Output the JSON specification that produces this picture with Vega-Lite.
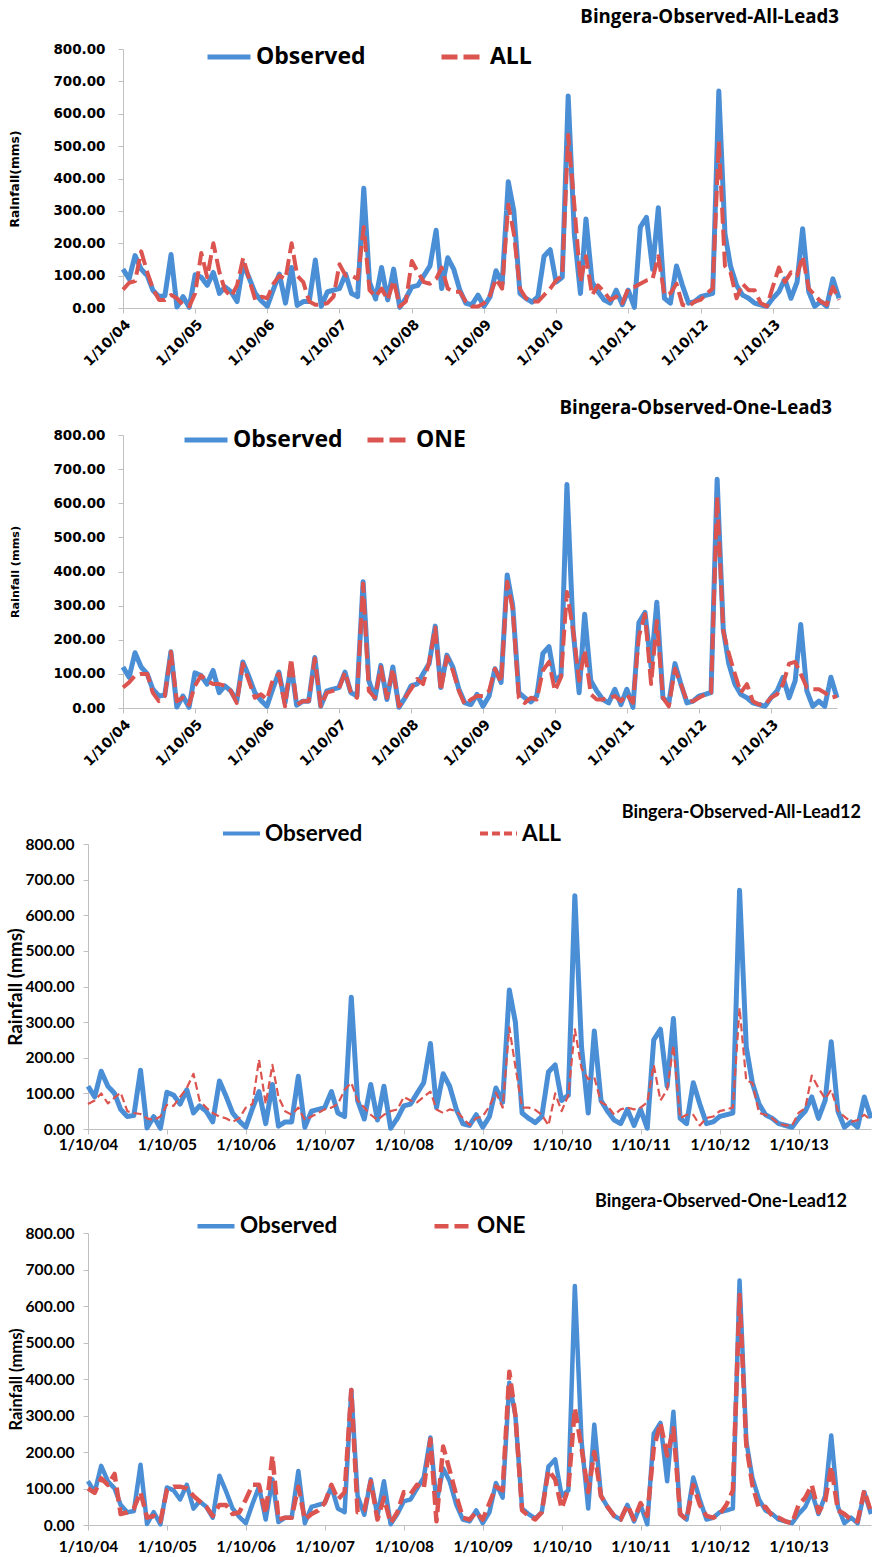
{
"$schema":"https://vega.github.io/schema/vega-lite/v6.json",
"background":"white",
"padding":{"left":6,"top":8,"right":0,"bottom":0},
"spacing":30,
"config":{"view":{"stroke":null}},
"resolve":{"scale":{"x":"independent","y":"independent","color":"independent","strokeDash":"independent"},"legend":{"color":"independent","strokeDash":"independent"}},
"datasets":{"rain":[
{"d":"2004-10-01","obs":120,"all3":57,"one3":60,"all12":70,"one12":100},
{"d":"2004-11-01","obs":90,"all3":78,"one3":75,"all12":80,"one12":88},
{"d":"2004-12-01","obs":162,"all3":83,"one3":95,"all12":100,"one12":128},
{"d":"2005-01-01","obs":120,"all3":175,"one3":100,"all12":72,"one12":110},
{"d":"2005-02-01","obs":100,"all3":110,"one3":100,"all12":88,"one12":140},
{"d":"2005-03-01","obs":55,"all3":60,"one3":45,"all12":102,"one12":30},
{"d":"2005-04-01","obs":35,"all3":25,"one3":20,"all12":50,"one12":35},
{"d":"2005-05-01","obs":38,"all3":25,"one3":35,"all12":45,"one12":45},
{"d":"2005-06-01","obs":165,"all3":40,"one3":165,"all12":42,"one12":90},
{"d":"2005-07-01","obs":3,"all3":30,"one3":20,"all12":30,"one12":20},
{"d":"2005-08-01","obs":35,"all3":10,"one3":30,"all12":25,"one12":25},
{"d":"2005-09-01","obs":2,"all3":5,"one3":10,"all12":35,"one12":10},
{"d":"2005-10-01","obs":103,"all3":45,"one3":65,"all12":68,"one12":95},
{"d":"2005-11-01","obs":95,"all3":170,"one3":95,"all12":65,"one12":105},
{"d":"2005-12-01","obs":70,"all3":95,"one3":80,"all12":90,"one12":105},
{"d":"2006-01-01","obs":110,"all3":200,"one3":70,"all12":115,"one12":100},
{"d":"2006-02-01","obs":45,"all3":110,"one3":70,"all12":155,"one12":80},
{"d":"2006-03-01","obs":65,"all3":55,"one3":65,"all12":80,"one12":65},
{"d":"2006-04-01","obs":50,"all3":35,"one3":50,"all12":60,"one12":50},
{"d":"2006-05-01","obs":20,"all3":70,"one3":15,"all12":45,"one12":25},
{"d":"2006-06-01","obs":135,"all3":155,"one3":130,"all12":35,"one12":55},
{"d":"2006-07-01","obs":93,"all3":90,"one3":80,"all12":30,"one12":55},
{"d":"2006-08-01","obs":45,"all3":25,"one3":30,"all12":20,"one12":30},
{"d":"2006-09-01","obs":22,"all3":35,"one3":40,"all12":30,"one12":35},
{"d":"2006-10-01","obs":5,"all3":30,"one3":25,"all12":60,"one12":70},
{"d":"2006-11-01","obs":58,"all3":75,"one3":85,"all12":70,"one12":110},
{"d":"2006-12-01","obs":105,"all3":100,"one3":100,"all12":195,"one12":110},
{"d":"2007-01-01","obs":15,"all3":90,"one3":5,"all12":70,"one12":30},
{"d":"2007-02-01","obs":125,"all3":200,"one3":145,"all12":180,"one12":190},
{"d":"2007-03-01","obs":8,"all3":100,"one3":10,"all12":90,"one12":15},
{"d":"2007-04-01","obs":20,"all3":80,"one3":20,"all12":50,"one12":20},
{"d":"2007-05-01","obs":20,"all3":20,"one3":20,"all12":40,"one12":20},
{"d":"2007-06-01","obs":148,"all3":10,"one3":145,"all12":60,"one12":105},
{"d":"2007-07-01","obs":5,"all3":10,"one3":5,"all12":25,"one12":15},
{"d":"2007-08-01","obs":50,"all3":15,"one3":45,"all12":35,"one12":30},
{"d":"2007-09-01","obs":55,"all3":35,"one3":50,"all12":45,"one12":40},
{"d":"2007-10-01","obs":60,"all3":135,"one3":55,"all12":55,"one12":60},
{"d":"2007-11-01","obs":105,"all3":100,"one3":105,"all12":60,"one12":110},
{"d":"2007-12-01","obs":45,"all3":100,"one3":45,"all12":70,"one12":70},
{"d":"2008-01-01","obs":35,"all3":90,"one3":30,"all12":110,"one12":90},
{"d":"2008-02-01","obs":370,"all3":250,"one3":365,"all12":130,"one12":370},
{"d":"2008-03-01","obs":80,"all3":55,"one3":50,"all12":80,"one12":35},
{"d":"2008-04-01","obs":28,"all3":35,"one3":30,"all12":60,"one12":40},
{"d":"2008-05-01","obs":125,"all3":60,"one3":120,"all12":40,"one12":120},
{"d":"2008-06-01","obs":25,"all3":25,"one3":30,"all12":25,"one12":15},
{"d":"2008-07-01","obs":120,"all3":85,"one3":115,"all12":40,"one12":75},
{"d":"2008-08-01","obs":2,"all3":5,"one3":5,"all12":50,"one12":5},
{"d":"2008-09-01","obs":30,"all3":20,"one3":30,"all12":55,"one12":35},
{"d":"2008-10-01","obs":65,"all3":145,"one3":55,"all12":90,"one12":90},
{"d":"2008-11-01","obs":70,"all3":110,"one3":85,"all12":80,"one12":85},
{"d":"2008-12-01","obs":100,"all3":80,"one3":70,"all12":75,"one12":110},
{"d":"2009-01-01","obs":130,"all3":75,"one3":135,"all12":90,"one12":100},
{"d":"2009-02-01","obs":240,"all3":90,"one3":235,"all12":105,"one12":235},
{"d":"2009-03-01","obs":60,"all3":125,"one3":50,"all12":55,"one12":10},
{"d":"2009-04-01","obs":155,"all3":60,"one3":150,"all12":45,"one12":215},
{"d":"2009-05-01","obs":120,"all3":50,"one3":110,"all12":55,"one12":150},
{"d":"2009-06-01","obs":55,"all3":50,"one3":50,"all12":50,"one12":80},
{"d":"2009-07-01","obs":15,"all3":20,"one3":10,"all12":31,"one12":20},
{"d":"2009-08-01","obs":10,"all3":5,"one3":25,"all12":11,"one12":15},
{"d":"2009-09-01","obs":40,"all3":5,"one3":35,"all12":31,"one12":35},
{"d":"2009-10-01","obs":5,"all3":15,"one3":35,"all12":35,"one12":15},
{"d":"2009-11-01","obs":35,"all3":40,"one3":50,"all12":64,"one12":60},
{"d":"2009-12-01","obs":115,"all3":90,"one3":115,"all12":102,"one12":105},
{"d":"2010-01-01","obs":75,"all3":60,"one3":75,"all12":60,"one12":95},
{"d":"2010-02-01","obs":390,"all3":320,"one3":370,"all12":285,"one12":420},
{"d":"2010-03-01","obs":300,"all3":230,"one3":290,"all12":175,"one12":300},
{"d":"2010-04-01","obs":45,"all3":60,"one3":30,"all12":60,"one12":40},
{"d":"2010-05-01","obs":30,"all3":30,"one3":15,"all12":60,"one12":25},
{"d":"2010-06-01","obs":18,"all3":20,"one3":30,"all12":54,"one12":15},
{"d":"2010-07-01","obs":35,"all3":20,"one3":25,"all12":40,"one12":35},
{"d":"2010-08-01","obs":160,"all3":40,"one3":110,"all12":10,"one12":150},
{"d":"2010-09-01","obs":180,"all3":60,"one3":135,"all12":100,"one12":125},
{"d":"2010-10-01","obs":80,"all3":85,"one3":50,"all12":50,"one12":45},
{"d":"2010-11-01","obs":95,"all3":100,"one3":90,"all12":95,"one12":100},
{"d":"2010-12-01","obs":655,"all3":535,"one3":340,"all12":280,"one12":320},
{"d":"2011-01-01","obs":230,"all3":320,"one3":230,"all12":170,"one12":210},
{"d":"2011-02-01","obs":45,"all3":80,"one3":80,"all12":140,"one12":90},
{"d":"2011-03-01","obs":275,"all3":160,"one3":170,"all12":145,"one12":200},
{"d":"2011-04-01","obs":80,"all3":40,"one3":40,"all12":75,"one12":80},
{"d":"2011-05-01","obs":50,"all3":70,"one3":25,"all12":65,"one12":50},
{"d":"2011-06-01","obs":25,"all3":50,"one3":25,"all12":40,"one12":25},
{"d":"2011-07-01","obs":15,"all3":25,"one3":30,"all12":55,"one12":15},
{"d":"2011-08-01","obs":55,"all3":35,"one3":35,"all12":60,"one12":55},
{"d":"2011-09-01","obs":10,"all3":15,"one3":20,"all12":55,"one12":15},
{"d":"2011-10-01","obs":55,"all3":60,"one3":40,"all12":60,"one12":60},
{"d":"2011-11-01","obs":2,"all3":65,"one3":15,"all12":75,"one12":25},
{"d":"2011-12-01","obs":250,"all3":75,"one3":210,"all12":180,"one12":210},
{"d":"2012-01-01","obs":280,"all3":85,"one3":275,"all12":80,"one12":280},
{"d":"2012-02-01","obs":120,"all3":90,"one3":70,"all12":110,"one12":190},
{"d":"2012-03-01","obs":310,"all3":160,"one3":255,"all12":235,"one12":265},
{"d":"2012-04-01","obs":30,"all3":40,"one3":30,"all12":30,"one12":30},
{"d":"2012-05-01","obs":15,"all3":45,"one3":5,"all12":40,"one12":15},
{"d":"2012-06-01","obs":130,"all3":75,"one3":115,"all12":40,"one12":110},
{"d":"2012-07-01","obs":70,"all3":10,"one3":70,"all12":10,"one12":55},
{"d":"2012-08-01","obs":15,"all3":5,"one3":20,"all12":31,"one12":25},
{"d":"2012-09-01","obs":20,"all3":20,"one3":20,"all12":35,"one12":20},
{"d":"2012-10-01","obs":35,"all3":25,"one3":30,"all12":50,"one12":30},
{"d":"2012-11-01","obs":40,"all3":45,"one3":40,"all12":55,"one12":55},
{"d":"2012-12-01","obs":45,"all3":60,"one3":45,"all12":60,"one12":95},
{"d":"2013-01-01","obs":670,"all3":515,"one3":620,"all12":340,"one12":630},
{"d":"2013-02-01","obs":230,"all3":130,"one3":225,"all12":135,"one12":220},
{"d":"2013-03-01","obs":130,"all3":110,"one3":160,"all12":130,"one12":110},
{"d":"2013-04-01","obs":70,"all3":30,"one3":100,"all12":45,"one12":45},
{"d":"2013-05-01","obs":40,"all3":75,"one3":45,"all12":40,"one12":50},
{"d":"2013-06-01","obs":30,"all3":55,"one3":70,"all12":30,"one12":25},
{"d":"2013-07-01","obs":15,"all3":55,"one3":20,"all12":15,"one12":20},
{"d":"2013-08-01","obs":10,"all3":15,"one3":10,"all12":10,"one12":10},
{"d":"2013-09-01","obs":5,"all3":5,"one3":10,"all12":10,"one12":5},
{"d":"2013-10-01","obs":30,"all3":65,"one3":30,"all12":45,"one12":55},
{"d":"2013-11-01","obs":50,"all3":125,"one3":40,"all12":59,"one12":75},
{"d":"2013-12-01","obs":90,"all3":80,"one3":70,"all12":150,"one12":110},
{"d":"2014-01-01","obs":30,"all3":110,"one3":130,"all12":115,"one12":35},
{"d":"2014-02-01","obs":80,"all3":100,"one3":135,"all12":85,"one12":65},
{"d":"2014-03-01","obs":245,"all3":160,"one3":100,"all12":110,"one12":160},
{"d":"2014-04-01","obs":50,"all3":60,"one3":60,"all12":50,"one12":40},
{"d":"2014-05-01","obs":5,"all3":40,"one3":55,"all12":35,"one12":30},
{"d":"2014-06-01","obs":20,"all3":20,"one3":55,"all12":20,"one12":15},
{"d":"2014-07-01","obs":5,"all3":10,"one3":45,"all12":25,"one12":10},
{"d":"2014-08-01","obs":90,"all3":65,"one3":30,"all12":40,"one12":95},
{"d":"2014-09-01","obs":30,"all3":25,"one3":35,"all12":25,"one12":35}
]},
"vconcat":[
{
"width":751,"height":259,
"data":{"name":"rain"},
"title":{"text":"Bingera-Observed-All-Lead3","anchor":"end","frame":"group","font":"Open Sans","fontSize":18.7,"fontWeight":"bold","color":"#000000","offset":6},
"encoding":{"x":{"field":"d","type":"temporal","title":null,
 "scale":{"type":"utc","range":[35,751],"domain":[{"year":2004,"month":10,"date":1,"utc":true},{"year":2014,"month":9,"date":1,"utc":true}]},
 "axis":{"values":[{"year":2004,"month":10,"date":1,"utc":true},{"year":2005,"month":10,"date":1,"utc":true},{"year":2006,"month":10,"date":1,"utc":true},{"year":2007,"month":10,"date":1,"utc":true},{"year":2008,"month":10,"date":1,"utc":true},{"year":2009,"month":10,"date":1,"utc":true},{"year":2010,"month":10,"date":1,"utc":true},{"year":2011,"month":10,"date":1,"utc":true},{"year":2012,"month":10,"date":1,"utc":true},{"year":2013,"month":10,"date":1,"utc":true}],
 "format":"%-d/%m/%y","labelAngle":-45,"labelFlush":false,"labelOverlap":false,"grid":false,"domainColor":"#C0C0C0","tickColor":"#C0C0C0","tickSize":5,"labelFont":"DejaVu Sans","labelFontSize":14,"labelFontWeight":"bold","labelColor":"#000000","labelPadding":4}}},
"layer":[
{"mark":{"type":"line","strokeWidth":5,"strokeJoin":"round"},
 "encoding":{
  "y":{"field":"obs","type":"quantitative","title":"Rainfall(mms)","scale":{"domain":[0,800],"nice":false},
   "axis":{"offset":-35,"values":[0,100,200,300,400,500,600,700,800],"format":".2f","labelOverlap":false,"grid":false,"domainColor":"#C0C0C0","tickColor":"#C0C0C0","tickSize":5,"labelFont":"DejaVu Sans","labelFontSize":13.5,"labelFontWeight":"bold","labelColor":"#000000","labelPadding":13,"titleFont":"DejaVu Sans","titleFontSize":12.3,"titleFontWeight":"bold","titleColor":"#000000","titlePadding":31}},
  "color":{"datum":"Observed","scale":{"domain":["Observed","ALL"],"range":["#4A8ED6","#DC5450"]},
   "legend":{"orient":"none","legendX":117,"legendY":-16,"direction":"horizontal","title":null,"symbolType":"stroke","symbolSize":1849,"symbolStrokeWidth":5,"labelFont":"Open Sans","labelFontSize":23,"labelFontWeight":"bold","labelColor":"#000000","labelOffset":3,"columnPadding":65,"padding":0,"labelLimit":0}},
  "strokeDash":{"datum":"Observed","scale":{"domain":["Observed","ALL"],"range":[[1,0],[16,6]]}}}},
{"mark":{"type":"line","strokeWidth":4,"strokeJoin":"round"},
 "encoding":{
  "y":{"field":"all3","type":"quantitative","title":"Rainfall(mms)",
   "axis":{"offset":-35,"values":[0,100,200,300,400,500,600,700,800],"format":".2f","labelOverlap":false,"grid":false,"domainColor":"#C0C0C0","tickColor":"#C0C0C0","tickSize":5,"labelFont":"DejaVu Sans","labelFontSize":13.5,"labelFontWeight":"bold","labelColor":"#000000","labelPadding":13,"titleFont":"DejaVu Sans","titleFontSize":12.3,"titleFontWeight":"bold","titleColor":"#000000","titlePadding":31}},
  "color":{"datum":"ALL"},
  "strokeDash":{"datum":"ALL"}}}
]},
{
"width":749,"height":273,
"data":{"name":"rain"},
"title":{"text":"Bingera-Observed-One-Lead3","anchor":"end","frame":"group","font":"Open Sans","fontSize":18.7,"fontWeight":"bold","color":"#000000","offset":-2,"dx":-5},
"encoding":{"x":{"field":"d","type":"temporal",
 "scale":{"type":"utc","range":[35,749],"domain":[{"year":2004,"month":10,"date":1,"utc":true},{"year":2014,"month":9,"date":1,"utc":true}]},
 "axis":{"title":" ","titleOpacity":0,"titleFontSize":5,"titlePadding":0,"values":[{"year":2004,"month":10,"date":1,"utc":true},{"year":2005,"month":10,"date":1,"utc":true},{"year":2006,"month":10,"date":1,"utc":true},{"year":2007,"month":10,"date":1,"utc":true},{"year":2008,"month":10,"date":1,"utc":true},{"year":2009,"month":10,"date":1,"utc":true},{"year":2010,"month":10,"date":1,"utc":true},{"year":2011,"month":10,"date":1,"utc":true},{"year":2012,"month":10,"date":1,"utc":true},{"year":2013,"month":10,"date":1,"utc":true}],
 "format":"%-d/%m/%y","labelAngle":-45,"labelFlush":false,"labelOverlap":false,"grid":false,"domainColor":"#C0C0C0","tickColor":"#C0C0C0","tickSize":5,"labelFont":"DejaVu Sans","labelFontSize":14,"labelFontWeight":"bold","labelColor":"#000000","labelPadding":4}}},
"layer":[
{"mark":{"type":"line","strokeWidth":5,"strokeJoin":"round"},
 "encoding":{
  "y":{"field":"obs","type":"quantitative","title":"Rainfall (mms)","scale":{"domain":[0,800],"nice":false},
   "axis":{"offset":-35,"values":[0,100,200,300,400,500,600,700,800],"format":".2f","labelOverlap":false,"grid":false,"domainColor":"#C0C0C0","tickColor":"#C0C0C0","tickSize":5,"labelFont":"DejaVu Sans","labelFontSize":13.5,"labelFontWeight":"bold","labelColor":"#000000","labelPadding":13,"titleFont":"DejaVu Sans","titleFontSize":11.2,"titleFontWeight":"bold","titleColor":"#000000","titlePadding":32}},
  "color":{"datum":"Observed","scale":{"domain":["Observed","ONE"],"range":["#4A8ED6","#DC5450"]},
   "legend":{"orient":"none","legendX":94,"legendY":-19,"direction":"horizontal","title":null,"symbolType":"stroke","symbolSize":1849,"symbolStrokeWidth":5,"labelFont":"Open Sans","labelFontSize":23,"labelFontWeight":"bold","labelColor":"#000000","labelOffset":3,"columnPadding":14,"padding":0,"labelLimit":0}},
  "strokeDash":{"datum":"Observed","scale":{"domain":["Observed","ONE"],"range":[[1,0],[16,6]]}}}},
{"mark":{"type":"line","strokeWidth":4,"strokeJoin":"round"},
 "encoding":{
  "y":{"field":"one3","type":"quantitative","title":"Rainfall (mms)",
   "axis":{"offset":-35,"values":[0,100,200,300,400,500,600,700,800],"format":".2f","labelOverlap":false,"grid":false,"domainColor":"#C0C0C0","tickColor":"#C0C0C0","tickSize":5,"labelFont":"DejaVu Sans","labelFontSize":13.5,"labelFontWeight":"bold","labelColor":"#000000","labelPadding":13,"titleFont":"DejaVu Sans","titleFontSize":11.2,"titleFontWeight":"bold","titleColor":"#000000","titlePadding":32}},
  "color":{"datum":"ONE"},
  "strokeDash":{"datum":"ONE"}}}
]},
{
"width":783,"height":285,
"data":{"name":"rain"},
"title":{"text":"Bingera-Observed-All-Lead12","anchor":"end","frame":"group","font":"Lato","fontSize":18,"fontWeight":"bold","color":"#000000","offset":-9,"dx":-10},
"encoding":{"x":{"field":"d","type":"temporal",
 "scale":{"type":"utc","domain":[{"year":2004,"month":10,"date":1,"utc":true},{"year":2014,"month":9,"date":1,"utc":true}]},
 "axis":{"title":" ","titleOpacity":0,"titleFontSize":10,"titlePadding":0,"values":[{"year":2004,"month":10,"date":1,"utc":true},{"year":2005,"month":10,"date":1,"utc":true},{"year":2006,"month":10,"date":1,"utc":true},{"year":2007,"month":10,"date":1,"utc":true},{"year":2008,"month":10,"date":1,"utc":true},{"year":2009,"month":10,"date":1,"utc":true},{"year":2010,"month":10,"date":1,"utc":true},{"year":2011,"month":10,"date":1,"utc":true},{"year":2012,"month":10,"date":1,"utc":true},{"year":2013,"month":10,"date":1,"utc":true}],
 "format":"%-d/%m/%y","labelAngle":0,"labelFlush":false,"labelOverlap":false,"grid":false,"domainColor":"#C0C0C0","tickColor":"#C0C0C0","tickSize":5,"labelFont":"Lato","labelFontSize":15.5,"labelFontWeight":"bold","labelColor":"#000000","labelPadding":3}}},
"layer":[
{"mark":{"type":"line","strokeWidth":5,"strokeJoin":"round"},
 "encoding":{
  "y":{"field":"obs","type":"quantitative","title":"Rainfall (mms)","scale":{"domain":[0,800],"nice":false},
   "axis":{"values":[0,100,200,300,400,500,600,700,800],"format":".2f","labelOverlap":false,"grid":false,"domainColor":"#C0C0C0","tickColor":"#C0C0C0","tickSize":5,"labelFont":"Lato","labelFontSize":15.6,"labelFontWeight":"bold","labelColor":"#000000","labelPadding":9,"titleFont":"Lato","titleFontSize":19,"titleFontWeight":"bold","titleColor":"#000000","titlePadding":0}},
  "color":{"datum":"Observed","scale":{"domain":["Observed","ALL"],"range":["#4A8ED6","#DC5450"]},
   "legend":{"orient":"none","legendX":133,"legendY":-31,"direction":"horizontal","title":null,"symbolType":"stroke","symbolSize":1369,"symbolStrokeWidth":4,"labelFont":"Lato","labelFontSize":22.5,"labelFontWeight":"bold","labelColor":"#000000","labelOffset":3,"columnPadding":109,"padding":0,"labelLimit":0}},
  "strokeDash":{"datum":"Observed","scale":{"domain":["Observed","ALL"],"range":[[1,0],[8,4]]}}}},
{"mark":{"type":"line","strokeWidth":2.2,"strokeJoin":"round"},
 "encoding":{
  "y":{"field":"all12","type":"quantitative","title":"Rainfall (mms)",
   "axis":{"values":[0,100,200,300,400,500,600,700,800],"format":".2f","labelOverlap":false,"grid":false,"domainColor":"#C0C0C0","tickColor":"#C0C0C0","tickSize":5,"labelFont":"Lato","labelFontSize":15.6,"labelFontWeight":"bold","labelColor":"#000000","labelPadding":9,"titleFont":"Lato","titleFontSize":19,"titleFontWeight":"bold","titleColor":"#000000","titlePadding":0}},
  "color":{"datum":"ALL"},
  "strokeDash":{"datum":"ALL"}}}
]},
{
"width":783,"height":292,
"data":{"name":"rain"},
"title":{"text":"Bingera-Observed-One-Lead12","anchor":"end","frame":"group","font":"Lato","fontSize":18,"fontWeight":"bold","color":"#000000","offset":-6,"dx":-24},
"encoding":{"x":{"field":"d","type":"temporal","title":null,
 "scale":{"type":"utc","domain":[{"year":2004,"month":10,"date":1,"utc":true},{"year":2014,"month":9,"date":1,"utc":true}]},
 "axis":{"values":[{"year":2004,"month":10,"date":1,"utc":true},{"year":2005,"month":10,"date":1,"utc":true},{"year":2006,"month":10,"date":1,"utc":true},{"year":2007,"month":10,"date":1,"utc":true},{"year":2008,"month":10,"date":1,"utc":true},{"year":2009,"month":10,"date":1,"utc":true},{"year":2010,"month":10,"date":1,"utc":true},{"year":2011,"month":10,"date":1,"utc":true},{"year":2012,"month":10,"date":1,"utc":true},{"year":2013,"month":10,"date":1,"utc":true}],
 "format":"%-d/%m/%y","labelAngle":0,"labelFlush":false,"labelOverlap":false,"grid":false,"domainColor":"#C0C0C0","tickColor":"#C0C0C0","tickSize":5,"labelFont":"Lato","labelFontSize":15.5,"labelFontWeight":"bold","labelColor":"#000000","labelPadding":9}}},
"layer":[
{"mark":{"type":"line","strokeWidth":4.5,"strokeJoin":"round"},
 "encoding":{
  "y":{"field":"obs","type":"quantitative","title":"Rainfall (mms)","scale":{"domain":[0,800],"nice":false},
   "axis":{"values":[0,100,200,300,400,500,600,700,800],"format":".2f","labelOverlap":false,"grid":false,"domainColor":"#C0C0C0","tickColor":"#C0C0C0","tickSize":5,"labelFont":"Lato","labelFontSize":15.6,"labelFontWeight":"bold","labelColor":"#000000","labelPadding":9,"titleFont":"Lato","titleFontSize":16.5,"titleFontWeight":"bold","titleColor":"#000000","titlePadding":1}},
  "color":{"datum":"Observed","scale":{"domain":["Observed","ONE"],"range":["#4A8ED6","#DC5450"]},
   "legend":{"orient":"none","legendX":107,"legendY":-28,"direction":"horizontal","title":null,"symbolType":"stroke","symbolSize":1369,"symbolStrokeWidth":4.5,"labelFont":"Lato","labelFontSize":22.5,"labelFontWeight":"bold","labelColor":"#000000","labelOffset":3,"columnPadding":87,"padding":0,"labelLimit":0}},
  "strokeDash":{"datum":"Observed","scale":{"domain":["Observed","ONE"],"range":[[1,0],[14,6]]}}}},
{"mark":{"type":"line","strokeWidth":4.5,"strokeJoin":"round"},
 "encoding":{
  "y":{"field":"one12","type":"quantitative","title":"Rainfall (mms)",
   "axis":{"values":[0,100,200,300,400,500,600,700,800],"format":".2f","labelOverlap":false,"grid":false,"domainColor":"#C0C0C0","tickColor":"#C0C0C0","tickSize":5,"labelFont":"Lato","labelFontSize":15.6,"labelFontWeight":"bold","labelColor":"#000000","labelPadding":9,"titleFont":"Lato","titleFontSize":16.5,"titleFontWeight":"bold","titleColor":"#000000","titlePadding":1}},
  "color":{"datum":"ONE"},
  "strokeDash":{"datum":"ONE"}}}
]}
]
}
